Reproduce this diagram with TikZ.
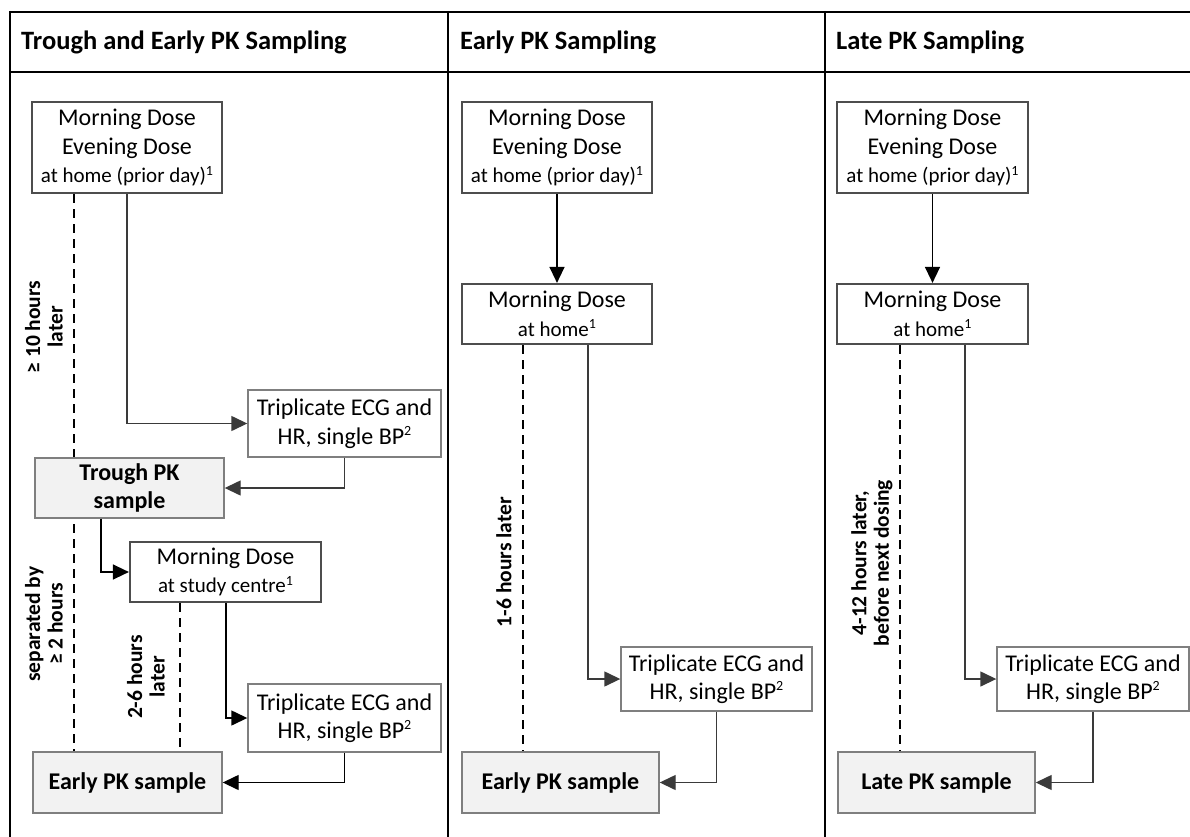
\documentclass[tikz,border=0pt]{standalone}
\usepackage{fontspec}
\setmainfont{Carlito}
\usetikzlibrary{arrows.meta,backgrounds}
\definecolor{boxline}{HTML}{4D4D4D}
\definecolor{thinline}{HTML}{7F7F7F}
\definecolor{samplefill}{HTML}{F2F2F2}
\definecolor{connc}{HTML}{3A3A3A}
\newcommand{\bigtxt}{\fontsize{24}{28.5}\selectfont}
\newcommand{\smalltxt}{\fontsize{21}{28.5}\selectfont}
\newcommand{\supr}[1]{\raisebox{0.75ex}{\fontsize{14}{14}\selectfont #1}}
\tikzset{
  dosebox/.style={draw=boxline, line width=2.2pt, fill=white, inner sep=0pt, align=center, font=\bigtxt},
  measbox/.style={draw=thinline, line width=1.4pt, fill=white, inner sep=0pt, align=center, font=\bigtxt},
  samplebox/.style={draw=thinline, line width=1.4pt, fill=samplefill, inner sep=0pt, align=center, font=\bigtxt\bfseries},
  conn/.style={draw=connc, line width=1.4pt, -{Triangle[length=16pt,width=15pt]}},
  timeline/.style={draw=black, line width=1.1pt, dash pattern=on 9pt off 6pt},
  frame/.style={draw=black, line width=2.2pt},
  header/.style={anchor=base west, inner sep=0pt, font=\fontsize{26.5}{30}\selectfont\bfseries},
  lbl/.style={rotate=90, align=center, inner sep=0pt, font=\fontsize{21.5}{22.5}\selectfont\bfseries}
}
\begin{document}
\begin{tikzpicture}[x=1pt,y=-1pt]
\useasboundingbox (0,0) rectangle (1190,837);
% frame
\draw[frame] (10,12) -- (1190,12);
\draw[frame] (10,72) -- (1190,72);
\draw[frame] (10,11) -- (10,837);
\draw[frame] (448,11) -- (448,837);
\draw[frame] (825,11) -- (825,837);
\node[header] (h1) at (21,50) {Trough and Early PK Sampling};
\node[header] (h2) at (460,50) {Early PK Sampling};
\node[header] (h3) at (836,50) {Late PK Sampling};

% ---------- column 1 ----------
\node[dosebox, minimum width=190pt, minimum height=91pt] (a1) at (127,147.5)
  {Morning Dose\\Evening Dose\\{\smalltxt at home (prior day)\supr{1}}};
\node[measbox, minimum width=193pt, minimum height=67pt] (a2) at (344.5,423.5)
  {Triplicate ECG and\\HR, single BP\supr{2}};
\node[samplebox, minimum width=189pt, minimum height=60pt] (a3) at (129.5,488)
  {Trough PK\\sample};
\node[dosebox, minimum width=191pt, minimum height=60pt] (a4) at (225.5,572)
  {Morning Dose\\{\smalltxt at study centre\supr{1}}};
\node[measbox, minimum width=193pt, minimum height=68pt] (a5) at (344.5,718)
  {Triplicate ECG and\\HR, single BP\supr{2}};
\node[samplebox, minimum width=189pt, minimum height=61pt] (a6) at (127.5,782.5)
  {Early PK sample};

\begin{scope}[on background layer]
\draw[timeline] (a1.south -| 74,0) -- (a6.north -| 74,0);
\draw[timeline] (a4.south -| 180,0) -- (a6.north -| 180,0);
\end{scope}
\draw[conn] (a1.south -| 127,0) |- (a2.west);
\draw[conn] (a2.south) |- (a3.east);
\draw[conn, draw=black] (a3.south -| 101,0) |- (a4.west);
\draw[conn, draw=black] (a4.south -| 226,0) |- (a5.west);
\draw[conn, draw=black] (a5.south) |- (a6.east);

\node[lbl] (l1) at (44,327) {≥ 10 hours\\later};
\node[lbl] (l2) at (44,624) {separated by\\≥ 2 hours};
\node[lbl] (l3) at (146,677) {2-6 hours\\later};

% ---------- column 2 ----------
\node[dosebox, minimum width=190pt, minimum height=91pt] (b1) at (557,147.5)
  {Morning Dose\\Evening Dose\\{\smalltxt at home (prior day)\supr{1}}};
\node[dosebox, minimum width=190pt, minimum height=60pt] (b2) at (557,314)
  {Morning Dose\\{\smalltxt at home\supr{1}}};
\node[measbox, minimum width=191pt, minimum height=64pt] (b3) at (716.5,679)
  {Triplicate ECG and\\HR, single BP\supr{2}};
\node[samplebox, minimum width=197pt, minimum height=61pt] (b4) at (560.5,782.5)
  {Early PK sample};
\begin{scope}[on background layer]
\draw[timeline] (b2.south -| 523,0) -- (b4.north -| 523,0);
\end{scope}
\draw[conn, draw=black] (b1.south) -- (b2.north);
\draw[conn] (b2.south -| 588,0) |- (b3.west);
\draw[conn] (b3.south) |- (b4.east);
\node[lbl] (l4) at (504,562) {1-6 hours later};

% ---------- column 3 ----------
\node[dosebox, minimum width=191pt, minimum height=91pt] (c1) at (932.5,147.5)
  {Morning Dose\\Evening Dose\\{\smalltxt at home (prior day)\supr{1}}};
\node[dosebox, minimum width=191pt, minimum height=60pt] (c2) at (932.5,314)
  {Morning Dose\\{\smalltxt at home\supr{1}}};
\node[measbox, minimum width=192pt, minimum height=64pt] (c3) at (1093,679)
  {Triplicate ECG and\\HR, single BP\supr{2}};
\node[samplebox, minimum width=197pt, minimum height=61pt] (c4) at (936.5,782.5)
  {Late PK sample};
\begin{scope}[on background layer]
\draw[timeline] (c2.south -| 900,0) -- (c4.north -| 900,0);
\end{scope}
\draw[conn, draw=black] (c1.south) -- (c2.north);
\draw[conn] (c2.south -| 965,0) |- (c3.west);
\draw[conn] (c3.south) |- (c4.east);
\node[lbl] (l5) at (872,563) {4-12 hours later,\\before next dosing};
\end{tikzpicture}
\end{document}
